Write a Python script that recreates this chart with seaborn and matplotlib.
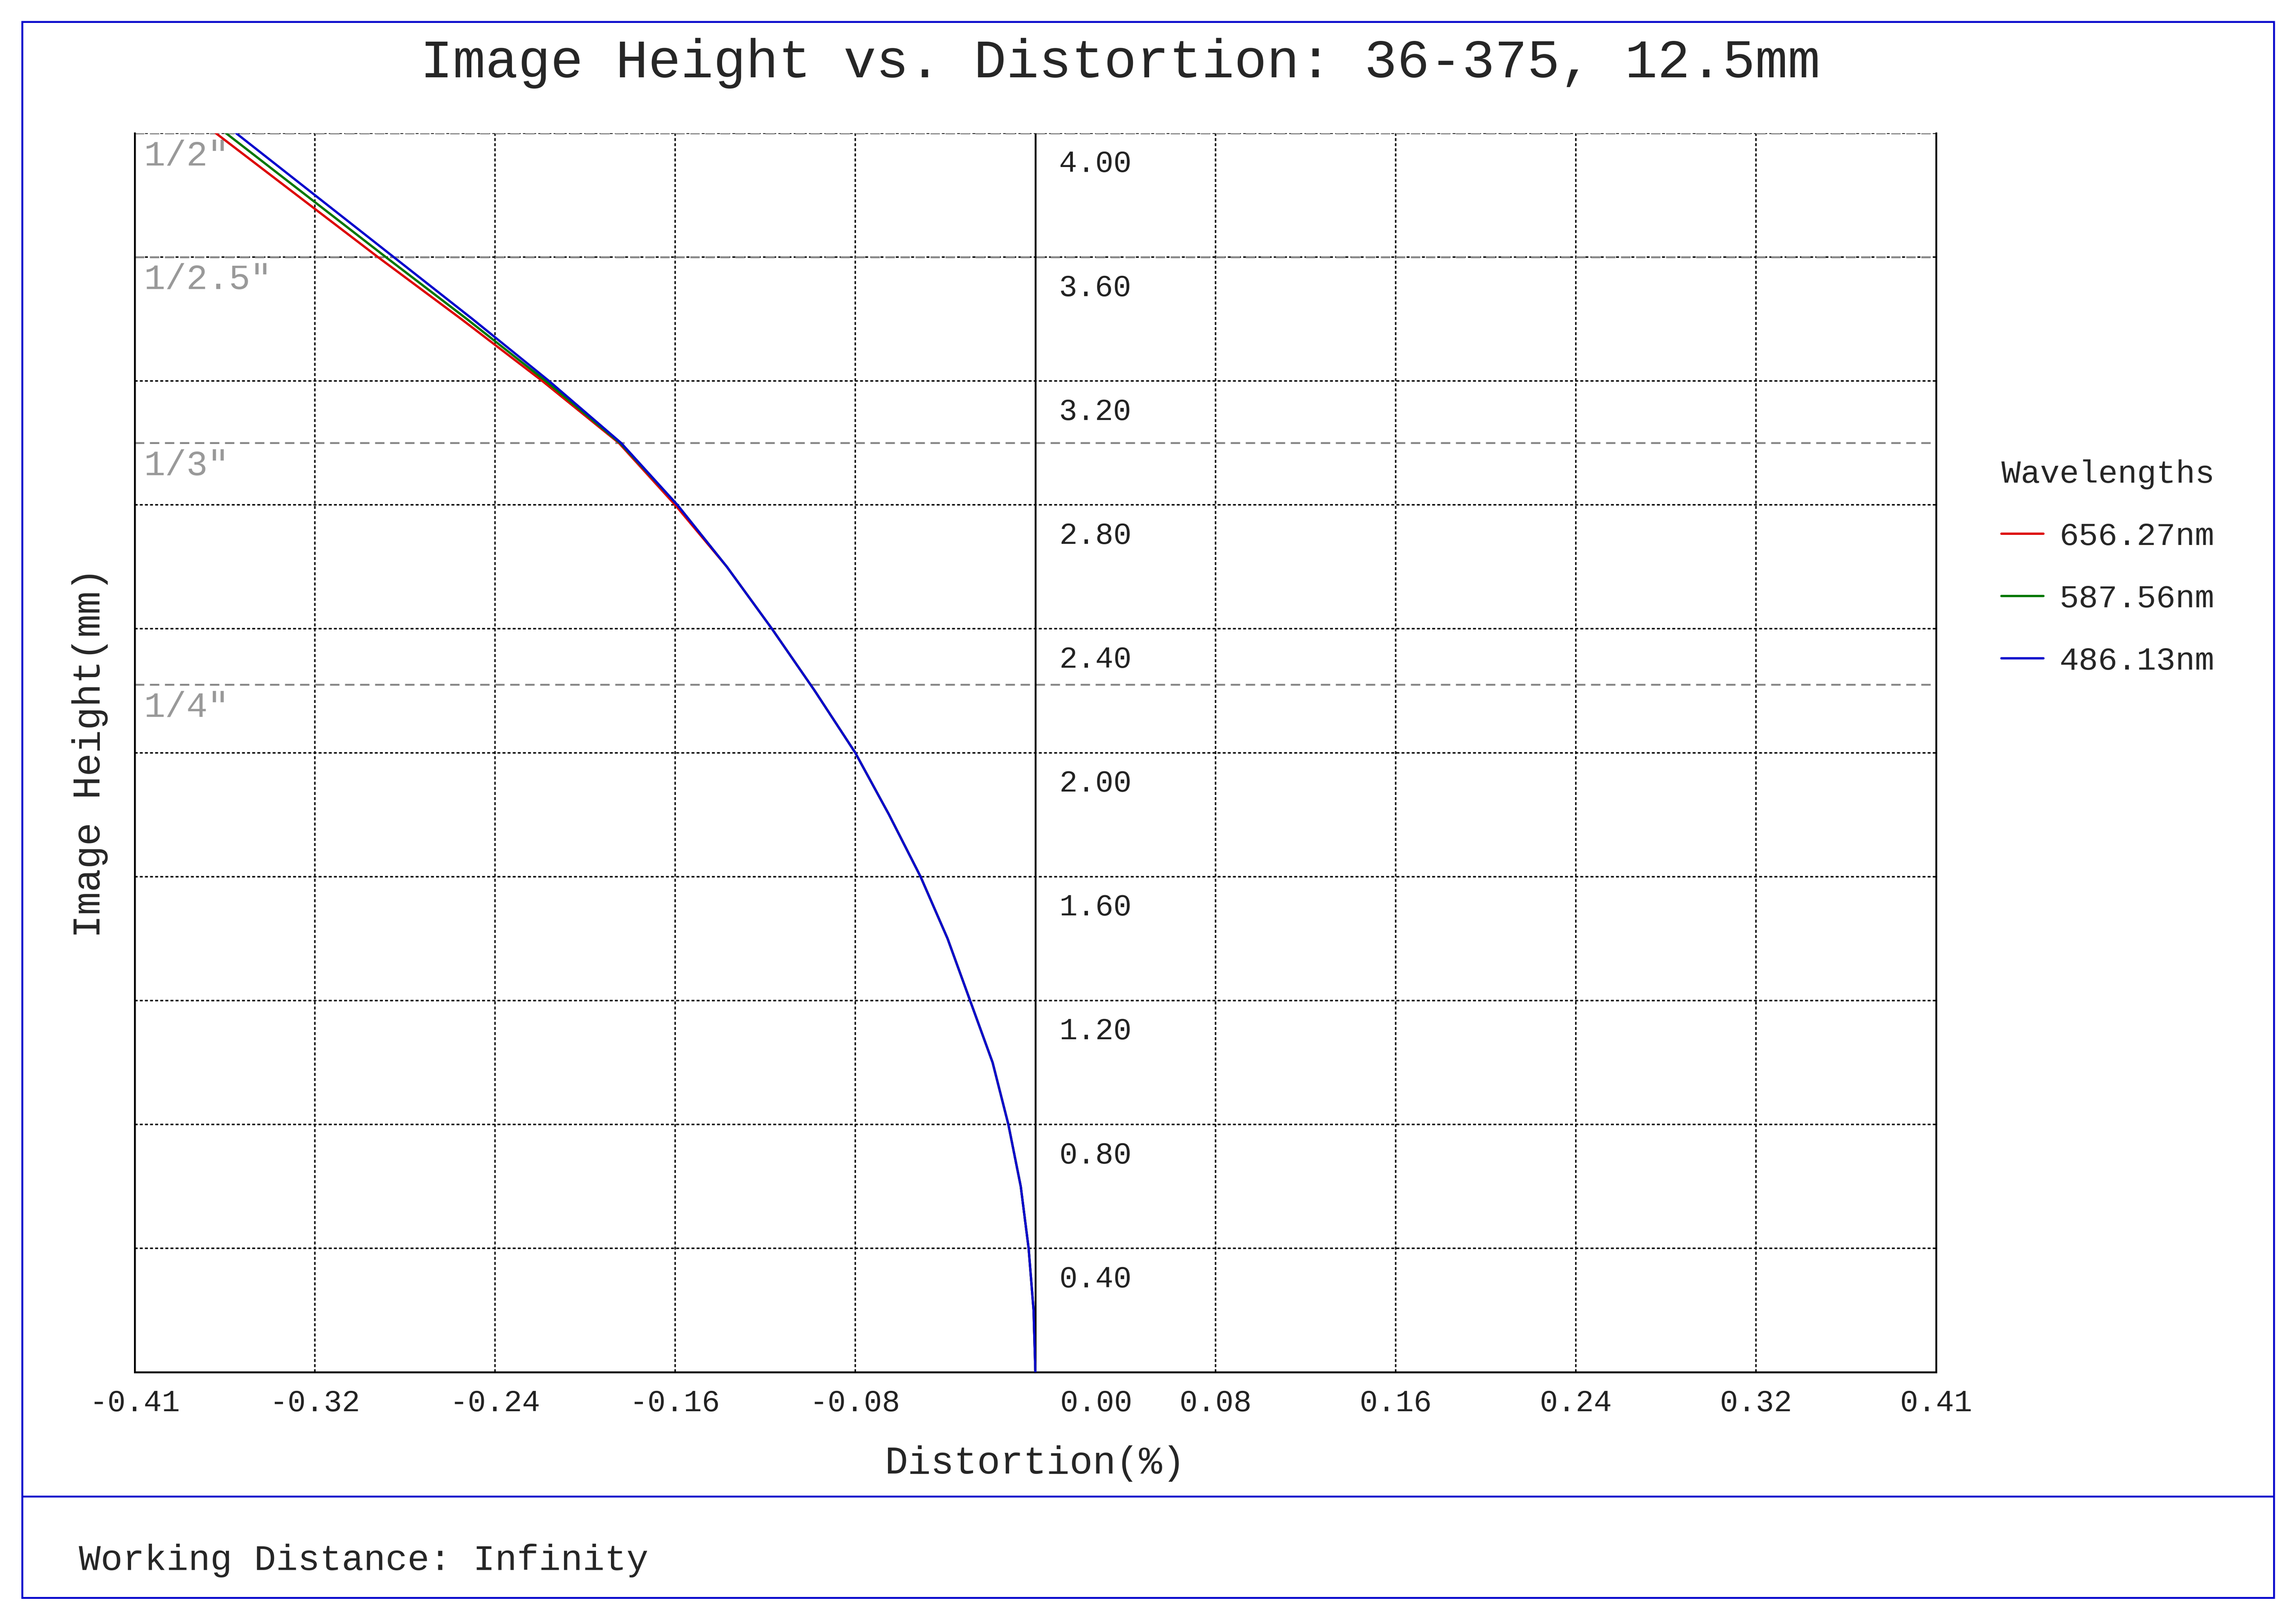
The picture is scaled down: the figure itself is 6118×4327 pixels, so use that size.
import numpy as np
import pandas as pd
import matplotlib
matplotlib.use("Agg")
import matplotlib.pyplot as plt
import seaborn as sns
from matplotlib.patches import Rectangle
from matplotlib.lines import Line2D

heights = [0.0, 0.2, 0.4, 0.6, 0.8, 1.0, 1.2, 1.4, 1.6, 1.8, 2.0, 2.2, 2.4, 2.6, 2.8, 3.0, 3.2, 3.4, 3.6, 3.8, 4.0]
dist_486 = [0.0, -0.0008, -0.003, -0.0065, -0.012, -0.019, -0.029, -0.039, -0.051, -0.065, -0.080,
            -0.098, -0.117, -0.137, -0.159, -0.184, -0.216, -0.250, -0.285, -0.320, -0.355]
dist_587 = [0.0, -0.0008, -0.003, -0.0065, -0.012, -0.019, -0.029, -0.039, -0.051, -0.065, -0.080,
            -0.098, -0.117, -0.137, -0.159, -0.1845, -0.2175, -0.2525, -0.2885, -0.324, -0.3595]
dist_656 = [0.0, -0.0008, -0.003, -0.0065, -0.012, -0.019, -0.029, -0.039, -0.051, -0.065, -0.080,
            -0.098, -0.117, -0.137, -0.160, -0.185, -0.219, -0.255, -0.292, -0.328, -0.364]
wavelengths = ["656.27nm", "587.56nm", "486.13nm"]
colors = ["#dd0000", "#007700", "#0000cc"]
xticks = [-0.32, -0.24, -0.16, -0.08, 0.0, 0.08, 0.16, 0.24, 0.32]
xtick_labels = ["-0.32", "-0.24", "-0.16", "-0.08", "0.00", "0.08", "0.16", "0.24", "0.32"]
yticks = [0.4, 0.8, 1.2, 1.6, 2.0, 2.4, 2.8, 3.2, 3.6, 4.0]
ytick_labels = ["0.40", "0.80", "1.20", "1.60", "2.00", "2.40", "2.80", "3.20", "3.60", "4.00"]
sensor_names = ['1/2"', '1/2.5"', '1/3"', '1/4"']
sensor_heights = [4.0, 3.6, 3.0, 2.22]

rows = []
for wl, d in zip(wavelengths, [dist_656, dist_587, dist_486]):
    for h, x in zip(heights, d):
        rows.append({"Wavelength": wl, "h": h, "d": x})
df = pd.DataFrame(rows)

sns.set_theme(style="white")
plt.rcParams['font.family'] = ['Liberation Mono', 'DejaVu Sans Mono']
fig = plt.figure(figsize=(15.295, 10.8175), dpi=400)
ax = fig.add_axes([0.0587, 0.155, 0.7845, 0.763])
ax.set_xlim(-0.4, 0.4)
ax.set_ylim(0, 4.0)

for xt in xticks:
    ax.axvline(xt, color="black", lw=0.7, ls=(0, (2, 1.5)), zorder=1)
for yt in yticks:
    ax.axhline(yt, color="black", lw=0.7, ls=(0, (2, 1.5)), zorder=1)
ax.axvline(0, color="black", lw=0.9, zorder=2)
for n, h in zip(sensor_names, sensor_heights):
    ax.axhline(h, color="#888888", lw=0.9, ls=(0, (5, 3)), zorder=1.5)
    ax.text(-0.396, h - 0.02, n, ha="left", va="top", color="#999999", fontsize=17)

sns.lineplot(data=df, x="d", y="h", hue="Wavelength", palette=colors, sort=False,
             estimator=None, lw=1.1, ax=ax, legend=False, zorder=3)

ax.set_xticks([]); ax.set_yticks([])
ax.set_xlabel(""); ax.set_ylabel("")
for yt, lab in zip(yticks, ytick_labels):
    ax.text(0.0105, yt - 0.1, lab, ha="left", va="center", fontsize=14.5, color="#222222")
allx = [-0.4] + xticks + [0.4]
alll = ["-0.41"] + xtick_labels + ["0.41"]
for xt, lab in zip(allx, alll):
    xx = xt + 0.027 if lab == "0.00" else xt
    ax.text(xx, -0.1, lab, ha="center", va="center", fontsize=14.5, color="#222222", clip_on=False)
ax.text(0.0, -0.295, "Distortion(%)", ha="center", va="center", fontsize=18.5, clip_on=False)
ax.text(-0.42, 2.0, "Image Height(mm)", rotation=90, ha="center", va="center", fontsize=18.5, clip_on=False)
for s in ["left", "right", "bottom"]:
    ax.spines[s].set_color("black"); ax.spines[s].set_linewidth(0.9)
ax.spines["top"].set_visible(False)

fig.text(0.488, 0.961, "Image Height vs. Distortion: 36-375, 12.5mm", ha="center", va="center", fontsize=26)
handles = [Line2D([], [], color=c, lw=1.1) for c in colors]
leg = fig.legend(handles, wavelengths, title="Wavelengths", loc="upper left",
                 bbox_to_anchor=(0.859, 0.735), frameon=False, fontsize=15.5,
                 title_fontsize=15.5, handlelength=1.3, labelspacing=1.0, handletextpad=0.5)
leg._legend_box.align = "left"

fig.add_artist(Rectangle((0.0096, 0.0162), 0.9808, 0.9703, transform=fig.transFigure,
                         fill=False, edgecolor="#0000cc", lw=0.9))
fig.add_artist(Line2D([0.0096, 0.9904], [0.0785, 0.0785], transform=fig.transFigure, color="#0000cc", lw=0.9))
fig.text(0.0344, 0.039, "Working Distance: Infinity", ha="left", va="center", fontsize=17.5)
fig.savefig("out.png", dpi=400, facecolor="white")
